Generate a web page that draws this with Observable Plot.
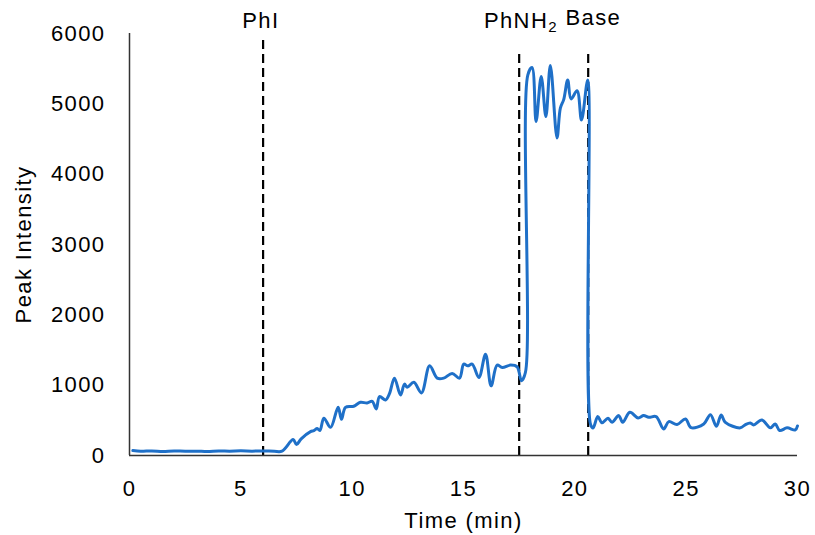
<!DOCTYPE html>
<html>
<head>
<meta charset="utf-8">
<script src="https://cdn.jsdelivr.net/npm/d3@7"></script>
<script src="https://cdn.jsdelivr.net/npm/@observablehq/plot@0.6"></script>
<style>
  html, body { margin: 0; padding: 0; background: #fff; }
  #chart { width: 815px; height: 535px; }
  #chart svg text { letter-spacing: 1.4px; }
</style>
</head>
<body>
<div id="chart"></div>
<script>
// Time (min) and peak intensity
const times = [0.15,0.5,1.0,1.5,2.0,2.5,3.0,3.5,4.0,4.5,5.0,5.5,6.0,6.5,6.85,
  7.35,7.5,7.71,8.13,8.28,8.43,8.55,8.73,9.03,9.37,9.52,9.7,10.07,10.37,10.67,10.9,11.08,11.23,11.5,11.67,11.9,
  12.17,12.35,12.47,12.77,13.11,13.48,13.82,14.11,14.49,14.82,15.01,15.19,15.39,15.69,15.99,16.24,16.51,16.74,17.11,17.41,17.6,17.78,
  17.89,18.08,18.26,18.49,18.7,18.9,19.2,19.35,19.5,19.68,19.83,20.1,20.3,20.58,
  20.7,20.82,21.03,21.22,21.49,21.67,21.97,22.15,22.47,22.84,23.09,23.32,23.65,23.99,24.22,24.59,24.97,25.22,
  25.79,26.09,26.36,26.57,26.76,27.43,27.66,27.88,28.03,28.4,28.78,29.0,29.2,29.53,29.9,30.0];
const intensity = [70,60,65,58,65,60,62,57,65,62,66,62,65,60,62,
  227,156,237,340,355,383,355,530,400,685,515,685,700,756,747,770,662,837,790,875,1100,
  860,1015,970,1040,890,1275,1100,1100,1167,1100,1300,1275,1300,1110,1440,990,1285,1250,1285,1260,1063,1180,
  5413,5516,4750,5390,4820,5545,4515,4940,5060,5340,5070,5185,4770,5340,
  450,390,553,465,529,472,567,472,614,534,567,543,553,378,482,440,520,395,
  449,581,415,577,472,393,440,463,435,506,393,449,355,393,364,420];

const markerTimes = [6.0, 17.5, 20.6];
const markerTops = [5900, 5700, 5700];
const labelTimes = [5.9, 19.0];
const labelTexts = ["PhI", "PhNH2 Base"];
const xTicks = [0, 5, 10, 15, 20, 25, 30];
const yTicks = [0, 1000, 2000, 3000, 4000, 5000, 6000];

const data = times.map((t, i) => ({t, v: intensity[i]}));
const markers = markerTimes.map((t, i) => ({t, top: markerTops[i]}));
const labels = labelTimes.map((t, i) => ({t, text: labelTexts[i]}));

const FS = 22;
const chart = Plot.plot({
  width: 815,
  height: 535,
  marginLeft: 129,
  marginRight: 18,
  marginTop: 33,
  marginBottom: 80,
  style: {fontFamily: "'Liberation Sans', Arial, sans-serif", fontSize: FS + "px", color: "#000", background: "#fff"},
  x: {domain: [0, 30]},
  y: {domain: [0, 6000]},
  marks: [
    Plot.axisX({ticks: xTicks, tickSize: 0, tickPadding: 25, label: "Time (min)", labelAnchor: "center", labelArrow: "none", labelOffset: 72, fontSize: FS}),
    Plot.axisY({ticks: yTicks, tickSize: 0, tickPadding: 24, tickFormat: d => String(d), label: "Peak Intensity", labelAnchor: "center", labelArrow: "none", labelOffset: 114, fontSize: FS}),
    Plot.ruleX(markers, {x: "t", y1: 0, y2: "top", stroke: "#000", strokeWidth: 2.2, strokeDasharray: "9,5"}),
    Plot.ruleY([0], {stroke: "#333", strokeWidth: 1.5}),
    Plot.ruleX([0], {stroke: "#333", strokeWidth: 1.5}),
    Plot.line(data, {x: "t", y: "v", stroke: "#1F70C8", strokeWidth: 3, curve: "catmull-rom"}),
    Plot.text(labels, {x: "t", y: () => 6000, text: "text", dy: -13, fontSize: FS, fill: "#000"})
  ]
});

// Render the subscript in PhNH2
d3.select(chart).selectAll("text").filter(function () { return this.textContent === "PhNH2 Base"; })
  .each(function () {
    const el = d3.select(this);
    el.text(null);
    el.append("tspan").text("PhNH");
    el.append("tspan").attr("dy", "0.3em").attr("font-size", "15px").text("2");
    el.append("tspan").attr("dy", "-0.3em").text(" Base");
  });

document.getElementById("chart").appendChild(chart);
</script>
</body>
</html>
